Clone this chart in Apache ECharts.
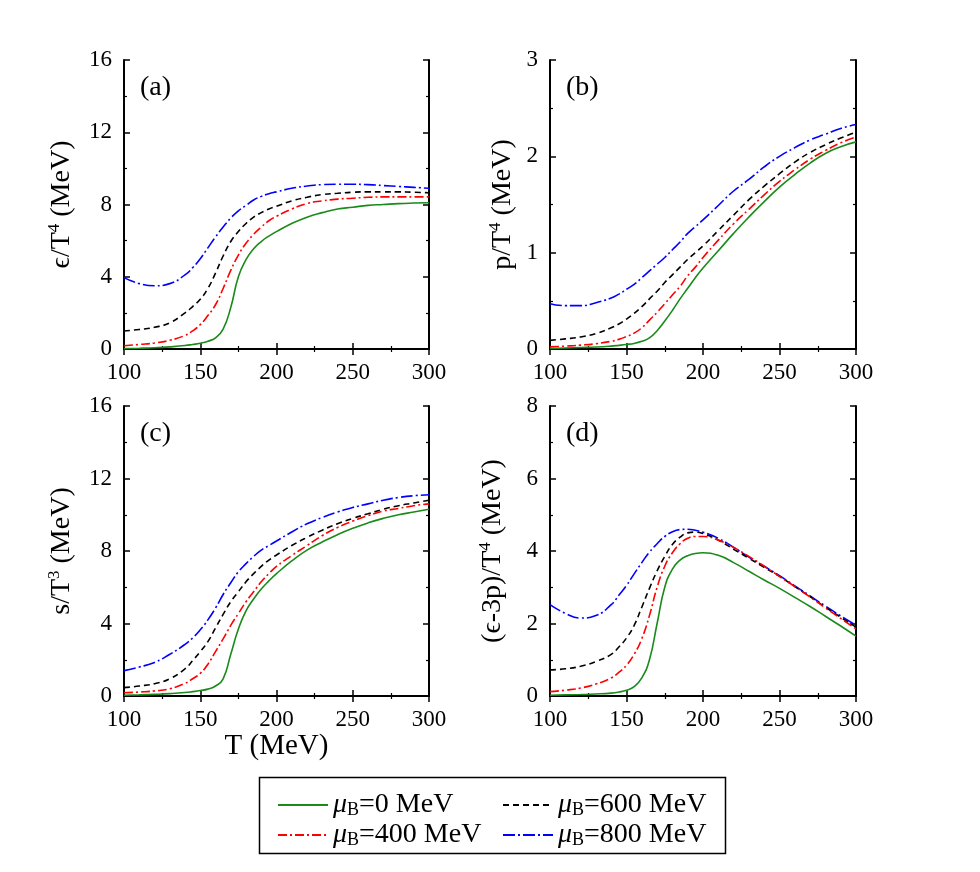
<!DOCTYPE html>
<html>
<head>
<meta charset="utf-8">
<script src="https://cdn.jsdelivr.net/npm/echarts@6/dist/echarts.min.js"></script>
<style>
  html, body { margin: 0; padding: 0; background: #fff; }
  #chart { width: 980px; height: 872px; }
</style>
</head>
<body>
<div id="chart"></div>
<script>
// temperature grid (MeV)
var T = [100, 110, 120, 130, 140, 145, 150, 155, 160, 165, 170, 175, 180, 185, 190, 195, 200,
         210, 220, 230, 240, 250, 260, 270, 280, 290, 300];

var names = ['mu0', 'mu400', 'mu600', 'mu800'];
var legendLabels = ['0', '400', '600', '800'];

// (a) energy density e/T^4
var eps0   = [0.02, 0.04, 0.07, 0.12, 0.19, 0.25, 0.32, 0.43, 0.62, 1.1, 2.3, 4.0, 4.95, 5.55, 5.95, 6.25, 6.5,
              6.95, 7.3, 7.55, 7.75, 7.85, 7.95, 8.0, 8.05, 8.08, 8.1];
var eps400 = [0.18, 0.25, 0.33, 0.48, 0.75, 1.0, 1.35, 1.85, 2.45, 3.35, 4.35, 5.2, 5.85, 6.35, 6.75, 7.1, 7.35,
              7.75, 8.05, 8.2, 8.3, 8.35, 8.4, 8.42, 8.42, 8.42, 8.42];
var eps600 = [1.0, 1.08, 1.2, 1.45, 2.0, 2.35, 2.75, 3.35, 4.2, 5.15, 5.95, 6.5, 6.95, 7.3, 7.55, 7.75, 7.9,
              8.2, 8.4, 8.55, 8.62, 8.68, 8.7, 8.7, 8.7, 8.68, 8.65];
var eps800 = [3.95, 3.62, 3.5, 3.62, 4.1, 4.5, 5.0, 5.6, 6.2, 6.75, 7.25, 7.65, 7.95, 8.25, 8.45, 8.6, 8.7,
              8.9, 9.02, 9.1, 9.12, 9.12, 9.1, 9.05, 9.0, 8.95, 8.9];

// (b) pressure p/T^4
var p0   = [0.005, 0.01, 0.015, 0.02, 0.03, 0.038, 0.047, 0.058, 0.08, 0.115, 0.19, 0.29, 0.4, 0.52, 0.63, 0.74, 0.84,
            1.02, 1.2, 1.37, 1.53, 1.68, 1.81, 1.93, 2.03, 2.1, 2.15];
var p400 = [0.022, 0.03, 0.04, 0.055, 0.08, 0.1, 0.13, 0.165, 0.22, 0.3, 0.38, 0.47, 0.56, 0.65, 0.76, 0.85, 0.95,
            1.13, 1.3, 1.45, 1.6, 1.74, 1.86, 1.97, 2.06, 2.14, 2.2];
var p600 = [0.09, 0.105, 0.125, 0.16, 0.22, 0.26, 0.31, 0.37, 0.44, 0.52, 0.6, 0.69, 0.77, 0.85, 0.93, 1.0, 1.07,
            1.23, 1.39, 1.55, 1.69, 1.82, 1.94, 2.04, 2.12, 2.19, 2.25];
var p800 = [0.47, 0.45, 0.45, 0.48, 0.53, 0.57, 0.62, 0.67, 0.74, 0.81, 0.88, 0.95, 1.03, 1.11, 1.2, 1.27, 1.34,
            1.49, 1.64, 1.76, 1.89, 2.0, 2.09, 2.17, 2.23, 2.29, 2.33];

// (c) entropy density s/T^3
var s0   = [0.04, 0.06, 0.09, 0.13, 0.19, 0.24, 0.3, 0.38, 0.55, 0.95, 2.3, 3.7, 4.7, 5.35, 5.9, 6.35, 6.75,
            7.45, 8.05, 8.5, 8.9, 9.25, 9.55, 9.8, 10.0, 10.15, 10.3];
var s400 = [0.18, 0.22, 0.28, 0.4, 0.7, 0.95, 1.25, 1.75, 2.45, 3.15, 3.9, 4.55, 5.2, 5.75, 6.3, 6.75, 7.15,
            7.75, 8.3, 8.85, 9.3, 9.65, 9.95, 10.2, 10.35, 10.5, 10.6];
var s600 = [0.46, 0.55, 0.68, 0.95, 1.5, 1.95, 2.45, 3.0, 3.75, 4.5, 5.2, 5.75, 6.3, 6.75, 7.15, 7.5, 7.78,
            8.3, 8.75, 9.15, 9.5, 9.8, 10.05, 10.3, 10.5, 10.65, 10.8];
var s800 = [1.4, 1.6, 1.85, 2.3, 2.85, 3.2, 3.65, 4.2, 4.85, 5.6, 6.25, 6.85, 7.3, 7.7, 8.05, 8.3, 8.55,
            9.05, 9.5, 9.85, 10.15, 10.4, 10.6, 10.8, 10.95, 11.05, 11.1];

// (d) trace anomaly (e-3p)/T^4
var d0   = [0.02, 0.03, 0.04, 0.055, 0.08, 0.11, 0.16, 0.26, 0.5, 1.0, 2.0, 3.0, 3.5, 3.75, 3.87, 3.93, 3.95,
            3.88, 3.68, 3.44, 3.2, 2.97, 2.72, 2.47, 2.2, 1.93, 1.65];
var d400 = [0.12, 0.16, 0.22, 0.33, 0.5, 0.65, 0.85, 1.15, 1.58, 2.22, 3.0, 3.58, 3.95, 4.2, 4.35, 4.4, 4.4,
            4.3, 4.1, 3.85, 3.58, 3.3, 3.02, 2.73, 2.43, 2.14, 1.85];
var d600 = [0.72, 0.75, 0.82, 0.95, 1.15, 1.35, 1.6, 1.95, 2.45, 2.97, 3.45, 3.85, 4.18, 4.38, 4.5, 4.52, 4.48,
            4.3, 4.05, 3.8, 3.55, 3.3, 3.02, 2.74, 2.45, 2.17, 1.9];
var d800 = [2.52, 2.28, 2.15, 2.22, 2.52, 2.78, 3.05, 3.37, 3.68, 3.97, 4.2, 4.4, 4.53, 4.59, 4.6, 4.57, 4.52,
            4.35, 4.1, 3.83, 3.58, 3.32, 3.04, 2.76, 2.48, 2.21, 1.95];

var FONT = 'Liberation Serif';
var colors = ['#1a8a1a', '#ff0000', '#000000', '#0000ff'];
var dashes = ['solid', [9, 3, 2, 3], [6, 4], [12, 3, 2, 3]];

var panels = [
  { grid: { left: 124, top: 60, width: 305, height: 289 }, ymax: 16, yint: 4, yname: 'ϵ/T{sup|4} (MeV)', gap: 46, tag: '(a)', data: [eps0, eps400, eps600, eps800] },
  { grid: { left: 550, top: 60, width: 306, height: 289 }, ymax: 3, yint: 1, yname: 'p/T{sup|4} (MeV)', gap: 31, tag: '(b)', data: [p0, p400, p600, p800] },
  { grid: { left: 124, top: 406, width: 305, height: 290 }, ymax: 16, yint: 4, yname: 's/T{sup|3} (MeV)', gap: 46, tag: '(c)', data: [s0, s400, s600, s800], xname: 'T (MeV)' },
  { grid: { left: 550, top: 406, width: 306, height: 290 }, ymax: 8, yint: 2, yname: '(ϵ-3p)/T{sup|4} (MeV)', gap: 41, tag: '(d)', data: [d0, d400, d600, d800] }
];

var frame = { show: true, lineStyle: { color: '#000', width: 2 } };
var tick = { show: true, inside: true, length: 6, lineStyle: { color: '#000', width: 1.5 } };
var minor = { show: true, splitNumber: 2, length: 3, lineStyle: { color: '#000', width: 1.2 } };

var grids = [], xAxes = [], yAxes = [], series = [], graphics = [];

panels.forEach(function (pn, k) {
  grids.push(pn.grid);
  xAxes.push({
    type: 'value', gridIndex: k, min: 100, max: 300, interval: 50, position: 'bottom',
    axisLine: frame, axisTick: tick, minorTick: minor, splitLine: { show: false },
    axisLabel: { fontFamily: FONT, fontSize: 23, color: '#000', margin: 12 },
    name: pn.xname || '', nameLocation: 'middle', nameGap: 36,
    nameTextStyle: { fontFamily: FONT, fontSize: 29, color: '#000' }
  });
  xAxes.push({
    type: 'value', gridIndex: k, min: 100, max: 300, interval: 50, position: 'top',
    axisLine: frame, axisTick: tick, minorTick: minor, splitLine: { show: false },
    axisLabel: { show: false }
  });
  yAxes.push({
    type: 'value', gridIndex: k, min: 0, max: pn.ymax, interval: pn.yint, position: 'left',
    axisLine: frame, axisTick: tick, minorTick: minor, splitLine: { show: false },
    axisLabel: { fontFamily: FONT, fontSize: 23, color: '#000', margin: 12 },
    name: pn.yname, nameLocation: 'middle', nameRotate: 90, nameGap: pn.gap,
    nameTextStyle: {
      fontFamily: FONT, fontSize: 28, color: '#000', lineHeight: 32,
      rich: { sup: { fontFamily: FONT, fontSize: 17, lineHeight: 17, verticalAlign: 'top', color: '#000' } }
    }
  });
  yAxes.push({
    type: 'value', gridIndex: k, min: 0, max: pn.ymax, interval: pn.yint, position: 'right',
    axisLine: frame, axisTick: tick, minorTick: minor, splitLine: { show: false },
    axisLabel: { show: false }
  });
  pn.data.forEach(function (vals, j) {
    series.push({
      name: names[j], type: 'line', xAxisIndex: 2 * k, yAxisIndex: 2 * k,
      data: T.map(function (t, i) { return [t, vals[i]]; }),
      symbol: 'none', smooth: 0.5, z: 10 - j,
      lineStyle: { color: colors[j], width: 1.6, type: dashes[j] },
      itemStyle: { color: colors[j] }
    });
  });
  graphics.push({
    type: 'text', left: pn.grid.left + 16, top: pn.grid.top + 14,
    style: { text: pn.tag, font: '28px "Liberation Serif"', fill: '#000' }
  });
});

// legend frame
graphics.push({
  type: 'rect', left: 257, top: 775,
  shape: { width: 466, height: 76 },
  style: { fill: 'none', stroke: '#000', lineWidth: 1.5 }
});

function legendFmt(name) {
  return '{mu|μ}{sub|B}{t|=' + legendLabels[names.indexOf(name)] + ' MeV}';
}
var legendText = {
  fontFamily: FONT, fontSize: 28, color: '#000',
  rich: {
    mu: { fontFamily: FONT, fontSize: 28, fontStyle: 'italic', lineHeight: 28, color: '#000' },
    sub: { fontFamily: FONT, fontSize: 18, lineHeight: 18, verticalAlign: 'bottom', color: '#000' },
    t: { fontFamily: FONT, fontSize: 28, lineHeight: 28, color: '#000' }
  }
};

var legendBase = {
  orient: 'vertical', top: 786, itemWidth: 50, itemHeight: 14, itemGap: 2,
  formatter: legendFmt, textStyle: legendText, selectedMode: false,
  itemStyle: { opacity: 0 }
};

var chart = echarts.init(document.getElementById('chart'));
chart.setOption({
  animation: false,
  backgroundColor: '#fff',
  grid: grids,
  xAxis: xAxes,
  yAxis: yAxes,
  series: series,
  graphic: graphics,
  legend: [
    Object.assign({}, legendBase, { data: ['mu0', 'mu400'], left: 272, itemTextGap: 10 }),
    Object.assign({}, legendBase, { data: ['mu600', 'mu800'], left: 497, itemTextGap: 12 })
  ]
});
</script>
</body>
</html>
